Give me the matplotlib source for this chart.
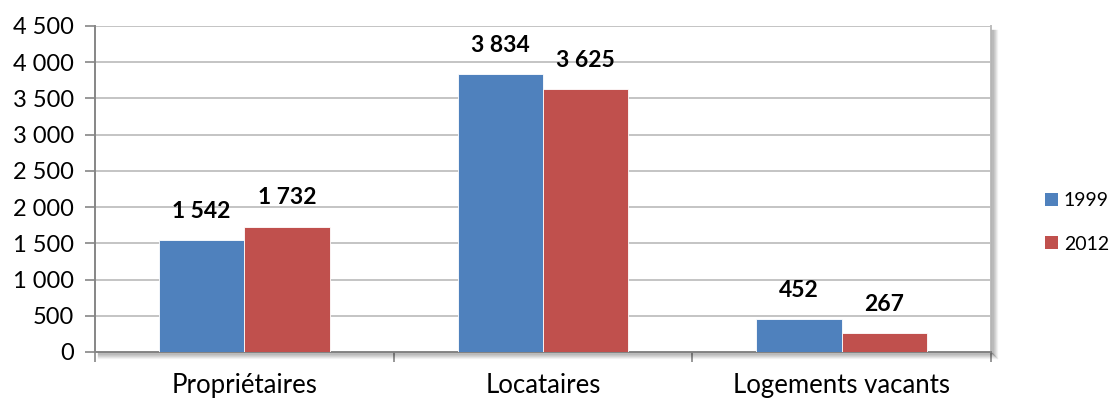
import numpy as np
import matplotlib.pyplot as plt
from matplotlib.lines import Line2D
from matplotlib.patches import Patch

plt.rcParams['font.family'] = ['Lato', 'DejaVu Sans']

categories = ['Propriétaires', 'Locataires', 'Logements vacants']
years = ['1999', '2012']
values_1999 = [1542, 3834, 452]
values_2012 = [1732, 3625, 267]
colors = ['#4F81BD', '#C0504D']

yticks = np.arange(0, 4501, 500)


def fmt(v):
    return f'{v:,}'.replace(',', ' ')


fig = plt.figure(figsize=(11.16, 4.01), dpi=100)
ax = fig.add_axes([0.0851, 0.1222, 0.8029, 0.8130])

x = np.arange(len(categories))
w = 1 / 3.5
series = [values_1999, values_2012]
for i, (vals, col) in enumerate(zip(series, colors)):
    pos = x + (i - 0.5) * w
    bars = ax.bar(pos, vals, width=w, color=col, edgecolor='white', linewidth=0.6, zorder=3)
    for b, v in zip(bars, vals):
        ax.annotate(fmt(v), (b.get_x() + b.get_width() / 2, v), xytext=(0, 13),
                    textcoords='offset points', ha='center', va='bottom',
                    fontsize=16.5, fontweight='bold', color='black', zorder=4)

ax.set_xlim(-0.5, 2.5)
ax.set_ylim(0, 4500)
ax.set_yticks(yticks)
ax.set_yticklabels([fmt(v) for v in yticks], fontsize=17)
ax.yaxis.grid(True, color='#c4c4c4', linewidth=1.4, zorder=0)
ax.set_axisbelow(True)

ax.set_xticks(x)
ax.set_xticklabels(categories, fontsize=18.5)
ax.tick_params(axis='x', length=0, pad=15)
ax.set_xticks([-0.5, 0.5, 1.5, 2.5], minor=True)
ax.tick_params(axis='x', which='minor', length=7, width=1.2, color='#868686')
ax.tick_params(axis='y', length=7, width=1.2, color='#868686', pad=8)

ax.spines['top'].set_visible(False)
ax.spines['right'].set_color('#bdbdbd')
ax.spines['right'].set_linewidth(1.4)
ax.spines['left'].set_color('#868686')
ax.spines['bottom'].set_color('#868686')
ax.spines['left'].set_linewidth(1.4)
ax.spines['bottom'].set_linewidth(1.4)

# soft drop shadow along bottom and right edges of the plot area
x0, x1 = 95 / 1116, 991 / 1116
yb, yt = 1 - 352 / 401, 1 - 26 / 401
for k in range(1, 7):
    a = 0.28 * (1 - k / 7)
    dy = k / 401
    dx = k / 1116
    fig.add_artist(Line2D([x0 + 3 / 1116, x1 + dx], [yb - dy, yb - dy], color='black',
                          alpha=a, linewidth=1, transform=fig.transFigure))
    fig.add_artist(Line2D([x1 + dx, x1 + dx], [yb - dy, yt - 4 / 401], color='black',
                          alpha=a, linewidth=1, transform=fig.transFigure))

handles = [Patch(facecolor=c, edgecolor='none') for c in colors]
fig.legend(handles, years, loc='center left', bbox_to_anchor=(0.928, 0.445), frameon=False,
           fontsize=14, handlelength=0.65, handleheight=0.65, handletextpad=0.3,
           labelspacing=1.35, borderpad=0)

fig.savefig('out.png', dpi=100)
